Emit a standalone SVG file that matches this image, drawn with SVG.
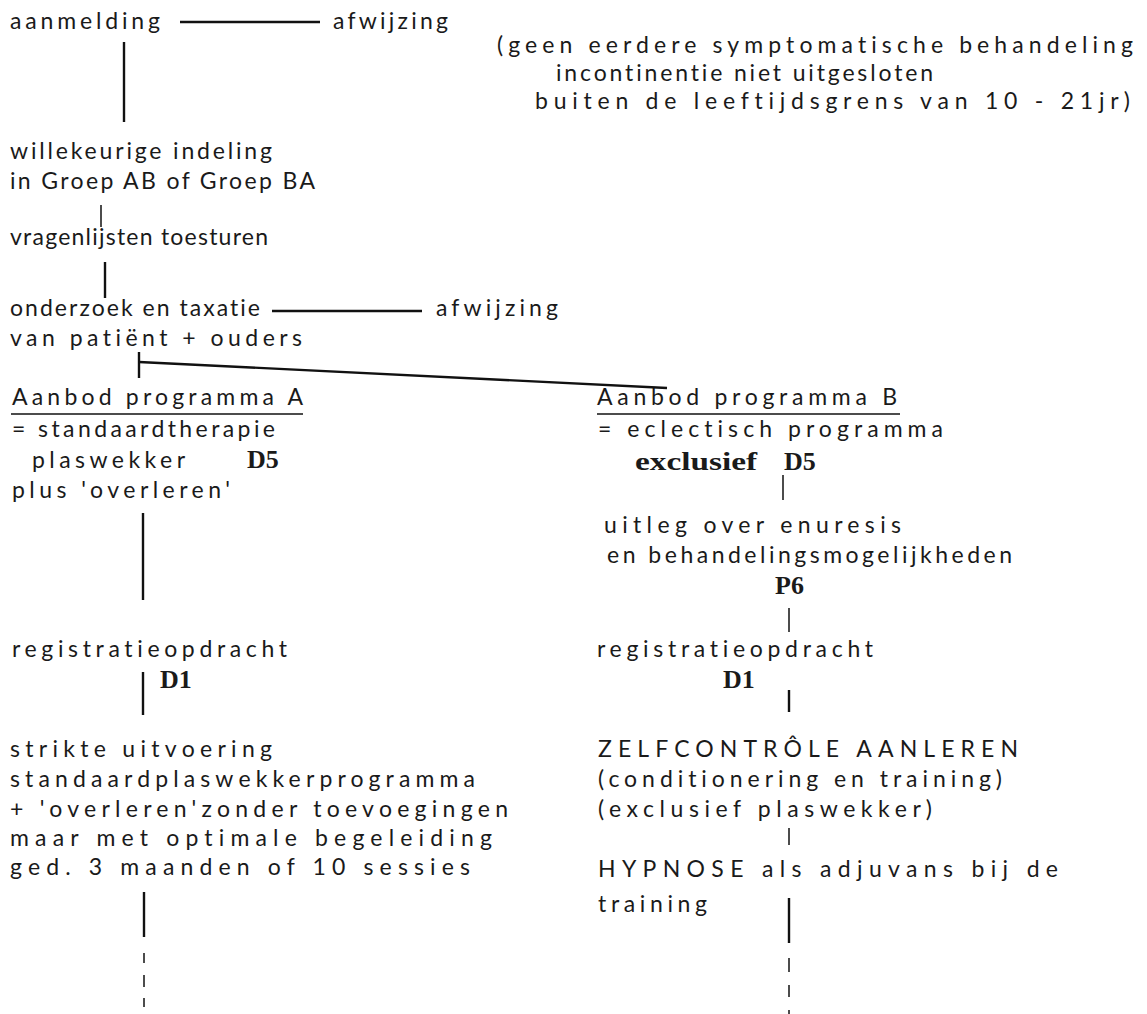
<svg xmlns="http://www.w3.org/2000/svg" width="1147" height="1014" viewBox="0 0 1147 1014">
<style>
text{font-family:Lato,"Open Sans","DejaVu Sans",sans-serif;font-size:23px;fill:#1a1a1a;font-variant-ligatures:none}
.b{font-family:"Liberation Serif","DejaVu Serif",serif;font-weight:bold;font-size:26px}
.c line{stroke:#111;stroke-width:2.4;stroke-linecap:butt}
.c .t{stroke-width:1.5}
.u{stroke:#111;stroke-width:1.6}
</style>
<rect width="1147" height="1014" fill="#fff"/>
<g id="n-aanmelding"><text x="10" y="29" textLength="150" lengthAdjust="spacing">aanmelding</text></g>
<g id="n-afwijzing1"><text x="333" y="29" textLength="115" lengthAdjust="spacing">afwijzing</text>
<text x="497" y="53" textLength="636" lengthAdjust="spacing">(geen eerdere symptomatische behandeling</text>
<text x="556" y="81" textLength="377" lengthAdjust="spacing">incontinentie niet uitgesloten</text>
<text x="535" y="109" textLength="595" lengthAdjust="spacing">buiten de leeftijdsgrens van 10 - 21jr)</text></g>
<g id="n-indeling"><text x="10" y="159" textLength="262" lengthAdjust="spacing">willekeurige indeling</text>
<text x="10" y="189" textLength="305" lengthAdjust="spacing">in Groep AB of Groep BA</text></g>
<g id="n-vragenlijsten"><text x="10" y="245" textLength="258" lengthAdjust="spacing">vragenlijsten toesturen</text></g>
<g id="n-onderzoek"><text x="10" y="316" textLength="250" lengthAdjust="spacing">onderzoek en taxatie</text>
<text x="10" y="346" textLength="292" lengthAdjust="spacing">van patiënt + ouders</text></g>
<g id="n-afwijzing2"><text x="436" y="316" textLength="122" lengthAdjust="spacing">afwijzing</text></g>
<g id="n-progA"><text x="12" y="405" textLength="291" lengthAdjust="spacing">Aanbod programma A</text>
<line class="u" x1="11" y1="414" x2="303" y2="414"/>
<text x="12" y="437" textLength="263" lengthAdjust="spacing">= standaardtherapie</text>
<text x="32" y="468" textLength="153" lengthAdjust="spacing">plaswekker</text>
<text class="b" x="247" y="468">D5</text>
<text x="12" y="498" textLength="218" lengthAdjust="spacing">plus 'overleren'</text></g>
<g id="n-progB"><text x="597" y="405" textLength="300" lengthAdjust="spacing">Aanbod programma B</text>
<line class="u" x1="597" y1="414" x2="900" y2="414"/>
<text x="598" y="437" textLength="345" lengthAdjust="spacing">= eclectisch programma</text>
<text class="b" x="635" y="470" textLength="122" lengthAdjust="spacingAndGlyphs">exclusief</text>
<text class="b" x="784" y="470">D5</text></g>
<g id="n-uitleg"><text x="604" y="533" textLength="297" lengthAdjust="spacing">uitleg over enuresis</text>
<text x="607" y="563" textLength="405" lengthAdjust="spacing">en behandelingsmogelijkheden</text>
<text class="b" x="775" y="594">P6</text></g>
<g id="n-regA"><text x="12" y="657" textLength="275" lengthAdjust="spacing">registratieopdracht</text>
<text class="b" x="160" y="688">D1</text></g>
<g id="n-regB"><text x="597" y="657" textLength="276" lengthAdjust="spacing">registratieopdracht</text>
<text class="b" x="723" y="688">D1</text></g>
<g id="n-strikt"><text x="10" y="757" textLength="262" lengthAdjust="spacing">strikte uitvoering</text>
<text x="10" y="787" textLength="465" lengthAdjust="spacing">standaardplaswekkerprogramma</text>
<text x="10" y="817" textLength="498" lengthAdjust="spacing">+ 'overleren'zonder toevoegingen</text>
<text x="10" y="846" textLength="482" lengthAdjust="spacing">maar met optimale begeleiding</text>
<text x="10" y="875" textLength="460" lengthAdjust="spacing">ged. 3 maanden of 10 sessies</text></g>
<g id="n-zelfcontrole"><text x="598" y="757" textLength="420" lengthAdjust="spacing">ZELFCONTRÔLE AANLEREN</text>
<text x="598" y="787" textLength="404" lengthAdjust="spacing">(conditionering en training)</text>
<text x="598" y="817" textLength="334" lengthAdjust="spacing">(exclusief plaswekker)</text></g>
<g id="n-hypnose"><text x="598" y="877" textLength="460" lengthAdjust="spacing">HYPNOSE als adjuvans bij de</text>
<text x="598" y="912" textLength="109" lengthAdjust="spacing">training</text></g>
<g id="connectors" class="c">
<line x1="180" y1="22" x2="320" y2="22"/>
<line x1="124" y1="42" x2="124" y2="122"/>
<line class="t" x1="101" y1="205" x2="101" y2="227"/>
<line x1="105" y1="262" x2="105" y2="298"/>
<line x1="272" y1="311" x2="422" y2="311"/>
<line x1="139" y1="352" x2="139" y2="378"/>
<line x1="139" y1="362" x2="667" y2="388"/>
<line x1="143" y1="513" x2="143" y2="600"/>
<line class="t" x1="783" y1="475" x2="783" y2="500"/>
<line class="t" x1="789" y1="608" x2="789" y2="632"/>
<line x1="143" y1="672" x2="143" y2="715"/>
<line x1="789" y1="690" x2="789" y2="712"/>
<line class="t" x1="789" y1="828" x2="789" y2="845"/>
<line x1="144" y1="892" x2="144" y2="937"/>
<line class="t" x1="144" y1="953" x2="144" y2="963"/>
<line class="t" x1="144" y1="975" x2="144" y2="987"/>
<line class="t" x1="144" y1="998" x2="144" y2="1007"/>
<line x1="789" y1="898" x2="789" y2="943"/>
<line class="t" x1="789" y1="958" x2="789" y2="972"/>
<line class="t" x1="789" y1="985" x2="789" y2="997"/>
<line class="t" x1="789" y1="1010" x2="789" y2="1014"/>
</g>
</svg>
